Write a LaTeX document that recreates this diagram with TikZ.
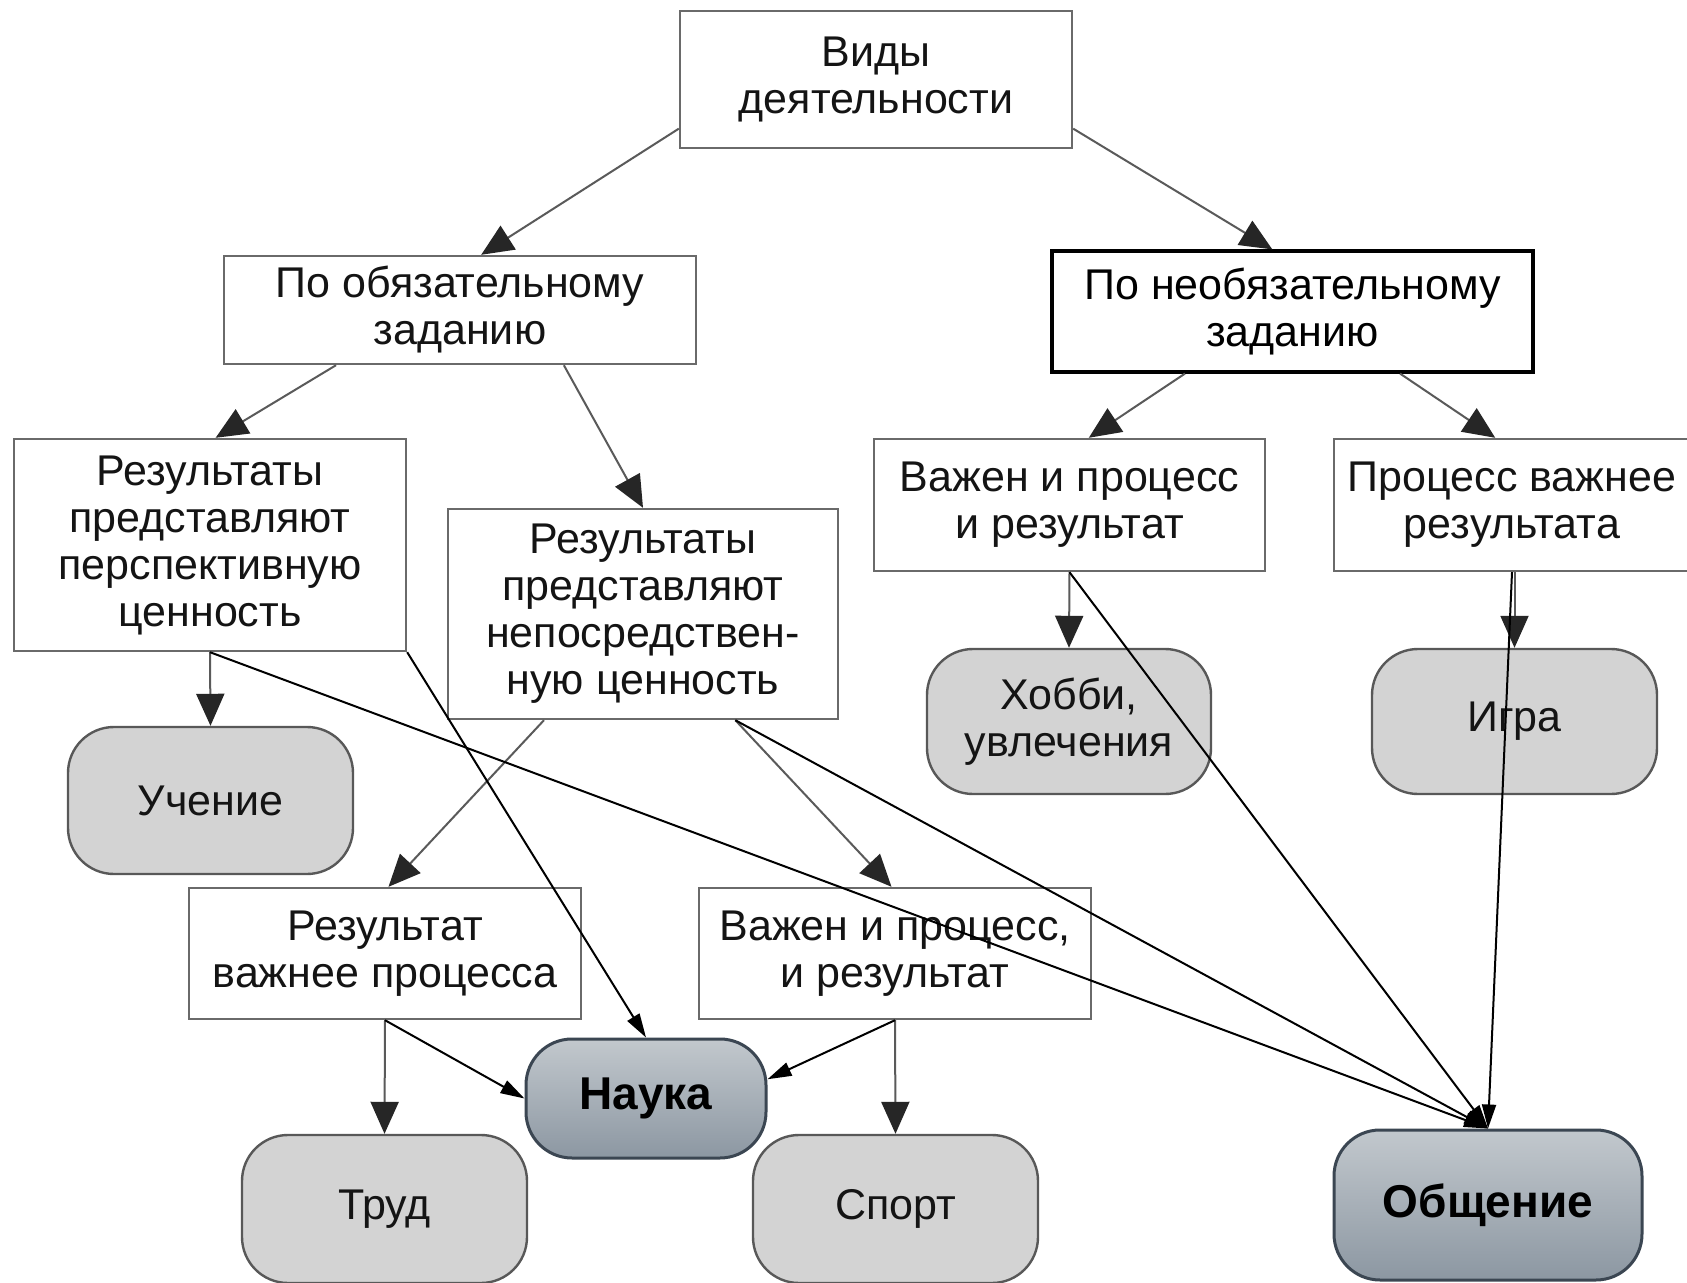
\documentclass[tikz,border=0pt]{standalone}
\usepackage{fontspec}
\setmainfont{Liberation Sans}
\usetikzlibrary{arrows.meta}
\definecolor{boxline}{HTML}{6A6A6A}
\definecolor{pillfill}{HTML}{D3D3D3}
\definecolor{pillline}{HTML}{585858}
\definecolor{darktop}{HTML}{C2C8CD}
\definecolor{darkbot}{HTML}{8C97A2}
\definecolor{darkline}{HTML}{3B4652}
\definecolor{txt}{HTML}{141414}
\definecolor{gline}{HTML}{5A5A5A}
\tikzset{
	box/.style={draw=boxline,line width=1.2pt,fill=white,align=center,inner sep=0pt,text=txt,font=\fontsize{21.5}{23.5}\selectfont},
	neobox/.style={box,draw=black,line width=1.6pt,text=black},
	pill/.style={box,draw=pillline,fill=pillfill,rounded corners=23pt},
	darkpill/.style={pill,draw=darkline,line width=1.5pt,top color=darktop,bottom color=darkbot,font=\fontsize{23}{25}\selectfont\bfseries,text=black},
	grey/.style={draw=gline,line width=1pt,-{Triangle[length=16pt,width=14pt,color=black!85]}},
	thin/.style={draw=black,line width=1pt,-{Triangle[length=12pt,width=7pt]}}
}
\begin{document}
\begin{tikzpicture}[x=0.5pt,y=-0.5pt]
	\useasboundingbox (0,0) rectangle (1687,1283);
	\fill[white] (0,0) rectangle (1687,1283);
	% boxes
	\node[box,minimum width=196pt,minimum height=68.5pt] (vidy) at (876,79.5) {Виды\\деятельности};
	\node[box,minimum width=236pt,minimum height=54pt] (oblig) at (460,310) {По обязательному\\заданию};
	\node[neobox,minimum width=240.5pt,minimum height=60.5pt] (neoblig) at (1292.5,311.5) {По необязательному\\заданию};
	\node[box,minimum width=196pt,minimum height=106pt] (perspekt) at (210,545) {Результаты\\представляют\\перспективную\\ценность};
	\node[box,minimum width=195pt,minimum height=105pt] (neposr) at (643,614) {Результаты\\представляют\\непосредствен-\\ную ценность};
	\node[box,minimum width=195.5pt,minimum height=66pt] (vazhen) at (1069.5,505) {Важен и процесс\\и результат};
	\node[box,minimum width=178pt,minimum height=66pt] (process) at (1512,505) {Процесс важнее\\результата};
	\node[box,minimum width=196pt,minimum height=65.5pt] (rezvazh) at (385,953.5) {Результат\\важнее процесса};
	\node[box,minimum width=196pt,minimum height=65.5pt] (oba) at (895,953.5) {Важен и процесс,\\и результат};
	% activities
	\node[pill,minimum width=142.5pt,minimum height=73.5pt] (uchenie) at (210.5,800.5) {Учение};
	\node[pill,minimum width=142pt,minimum height=72.5pt] (hobbi) at (1069,721.5) {Хобби,\\увлечения};
	\node[pill,minimum width=142.5pt,minimum height=72.5pt] (igra) at (1514.5,721.5) {Игра};
	\node[pill,minimum width=142.5pt,minimum height=74pt] (trud) at (384.5,1209) {Труд};
	\node[pill,minimum width=142.5pt,minimum height=74pt] (sport) at (895.5,1209) {Спорт};
	\node[darkpill,minimum width=120pt,minimum height=59.5pt] (nauka) at (646,1098.5) {Наука};
	\node[darkpill,minimum width=154pt,minimum height=75pt] (obsch) at (1488,1205) {Общение};
	% tree
	\draw[grey] (vidy.194) -- (oblig.69);
	\draw[grey] (vidy.-14) -- (neoblig.108);
	\draw[grey] (oblig.204) -- (perspekt.87);
	\draw[grey] (oblig.-28) -- (neposr.north);
	\draw[grey] (neoblig.210) -- (vazhen.74);
	\draw[grey] (neoblig.-30) -- (process.104);
	\draw[grey] (perspekt.south) -- (uchenie.north);
	\draw[grey] (neposr.227) -- (rezvazh.87);
	\draw[grey] (neposr.-49) -- (oba.93);
	\draw[grey] (vazhen.south) -- (hobbi.north);
	\draw[grey] (igra.north |- process.south) -- (igra.north);
	\draw[grey] (rezvazh.south) -- (trud.north);
	\draw[grey] (oba.south) -- (sport.north);
	% added links
	\draw[thin] (rezvazh.south) -- (nauka.west);
	\draw[thin] (oba.south) -- (nauka.9);
	\draw[thin] (perspekt.south east) -- (nauka.north);
	\draw[thin] (perspekt.south) -- (obsch.north);
	\draw[thin] (neposr.-49) -- (obsch.north);
	\draw[thin] (vazhen.south) -- (obsch.north);
	\draw[thin] (process.south) -- (obsch.north);
\end{tikzpicture}
\end{document}
